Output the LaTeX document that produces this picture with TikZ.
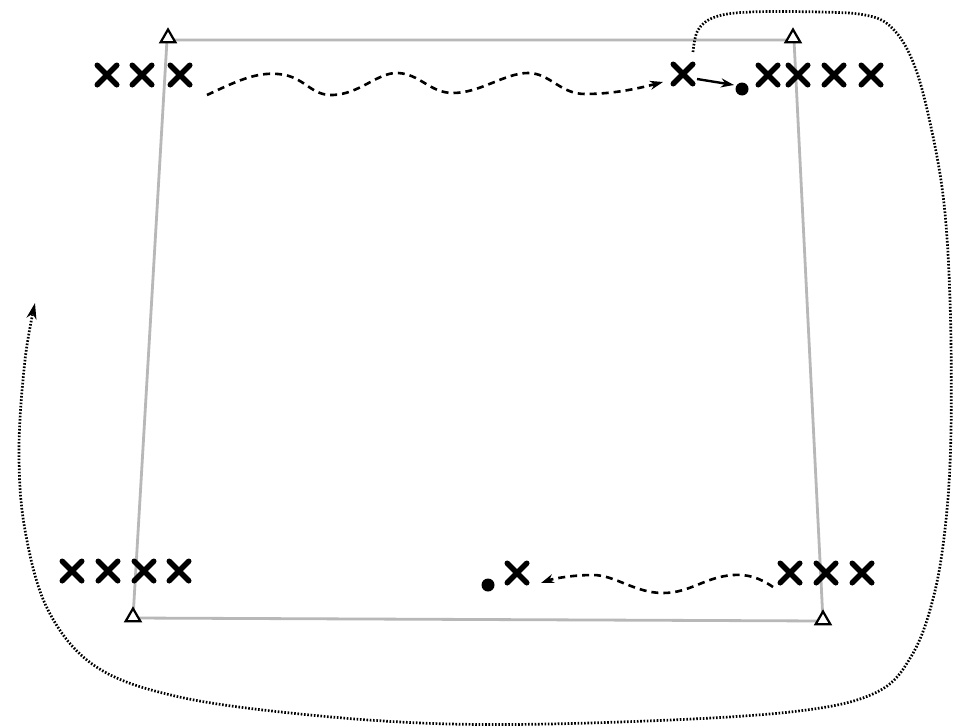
\documentclass[tikz,border=0pt]{standalone}
\usetikzlibrary{shapes.misc,shapes.geometric,arrows.meta}
\begin{document}
\begin{tikzpicture}[x=1pt,y=-1pt,
  xmark/.style={draw=black,cross out,line width=5.5pt,minimum size=14pt,inner sep=0pt,line cap=round},
  ptdot/.style={circle,fill=black,minimum size=13pt,inner sep=0pt},
  tri/.style={regular polygon,regular polygon sides=3,draw=black,fill=white,line width=2.2pt,minimum size=17pt,inner sep=0pt},
  edge/.style={draw=black!28,line width=2.8pt},
  wavy/.style={dash pattern=on 7pt off 5pt,line width=2.6pt,-{Stealth[length=13pt,width=9pt]}},
  loopy/.style={line width=2.7pt,dash pattern=on 1.6pt off 1.7pt,-{Stealth[length=16pt,width=10pt]}}]
\useasboundingbox (0,0) rectangle (956,728);
\fill[white] (0,0) rectangle (956,728);
% quadrilateral
\coordinate (TLc) at (167,40);
\coordinate (TRc) at (794,40);
\coordinate (BLc) at (133,618);
\coordinate (BRc) at (823,621);
\draw[edge] (TLc) -- (TRc) -- (BRc) -- (BLc) -- cycle;
\node[tri] (TL) at (168,38) {};
\node[tri] (TR) at (793,38) {};
\node[tri] (BL) at (133,617) {};
\node[tri] (BR) at (823,620) {};
% crosses top-left
\node[xmark] (a1) at (107,75) {};
\node[xmark] (a2) at (142,75) {};
\node[xmark] (a3) at (180,75) {};
% top-right
\node[xmark] (b0) at (683,74) {};
\node[ptdot] (bd) at (742,89) {};
\node[xmark] (b1) at (768,75) {};
\node[xmark] (b2) at (798,75) {};
\node[xmark] (b3) at (834,75) {};
\node[xmark] (b4) at (871,75) {};
% bottom-left
\node[xmark] (c1) at (72,571) {};
\node[xmark] (c2) at (108,571) {};
\node[xmark] (c3) at (144,571) {};
\node[xmark] (c4) at (179,571) {};
% bottom-middle
\node[ptdot] (dd) at (488,585) {};
\node[xmark] (d1) at (517,573) {};
% bottom-right
\node[xmark] (e1) at (790,573) {};
\node[xmark] (e2) at (826,573) {};
\node[xmark] (e3) at (862,573) {};
% top wavy arrow
\coordinate (w1s) at (207,95);
\coordinate (w1e) at (663,82);
\draw[wavy] (w1s) .. controls (235,82) and (255,72) .. (278,74)
  .. controls (305,76) and (310,96) .. (333,95)
  .. controls (360,94) and (378,72) .. (398,73)
  .. controls (420,74) and (430,93) .. (453,93)
  .. controls (480,93) and (505,73) .. (528,73)
  .. controls (550,73) and (560,94) .. (585,94)
  .. controls (615,94) and (640,88) .. (w1e);
% short solid arrow
\draw[line width=2.4pt,-{Stealth[length=13pt,width=9pt]}] (697,79) -- (734,85);
% bottom wavy arrow
\coordinate (w2s) at (773,587);
\coordinate (w2e) at (541,583);
\draw[wavy] (w2s) .. controls (760,578) and (748,574) .. (733,575)
  .. controls (705,577) and (690,593) .. (663,593)
  .. controls (635,593) and (615,575) .. (593,575)
  .. controls (575,575) and (555,578) .. (w2e);
% big dotted loop
\coordinate (ls) at (693,52);
\coordinate (le) at (35,302);
\draw[loopy] plot[smooth,tension=0.6] coordinates {(693,52) (698,30) (715,17) (750,12) (820,12) (865,15) (890,26) (910,55) (926,105) (943,195) (950,300) (951,430) (946,520) (934,595) (912,655) (875,693) (790,712) (620,722) (450,724) (300,714) (175,696) (95,666) (48,610) (25,530) (19,450) (25,360) (35,303)};
\end{tikzpicture}
\end{document}
